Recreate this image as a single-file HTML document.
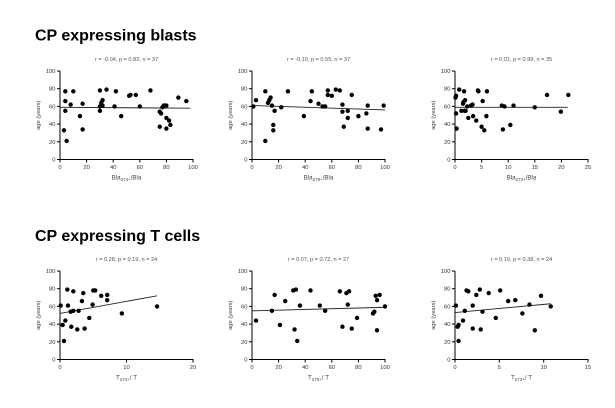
<!DOCTYPE html>
<html><head><meta charset="utf-8"><style>
html,body{margin:0;padding:0;background:#fff;width:615px;height:408px;overflow:hidden}
svg text{font-family:"Liberation Sans",sans-serif}
</style></head><body>
<svg id="s" width="615" height="408" xmlns="http://www.w3.org/2000/svg">
<text x="35" y="40.5" font-size="16" font-weight="bold" fill="#000">CP expressing blasts</text>
<text x="35" y="241" font-size="16" font-weight="bold" fill="#000">CP expressing T cells</text>
</svg>
<script>
var S=document.getElementById('s'),NS='http://www.w3.org/2000/svg';
function el(t,a,txt){var e=document.createElementNS(NS,t);for(var k in a)e.setAttribute(k,a[k]);if(txt!==undefined)e.innerHTML=txt;S.appendChild(e);return e;}
function panel(x0,y0,xmax,ticks,title,lab,sub,pts,line){
 var w=133,h=88.5,yb=y0+h;
 function X(v){return x0+v/xmax*w}function Y(v){return yb-v/100*h}
 el('text',{x:x0+w/2,y:y0-10,'font-size':'5.6','text-anchor':'middle',fill:'#555'},title);
 el('line',{x1:x0,y1:y0,x2:x0,y2:yb+0.5,stroke:'#000','stroke-width':1});
 el('line',{x1:x0-0.5,y1:yb,x2:x0+w+0.5,y2:yb,stroke:'#000','stroke-width':1});
 for(var i=0;i<=100;i+=20){el('line',{x1:x0-3,y1:Y(i),x2:x0,y2:Y(i),stroke:'#000','stroke-width':1});
  el('text',{x:x0-4.5,y:Y(i)+2,'font-size':'5.8','text-anchor':'end',fill:'#333'},i);}
 ticks.forEach(function(t){el('line',{x1:X(t),y1:yb,x2:X(t),y2:yb+3,stroke:'#000','stroke-width':1});
  el('text',{x:X(t),y:yb+9.5,'font-size':'5.8','text-anchor':'middle',fill:'#333'},t);});
 el('text',{x:x0-20,y:(y0+yb)/2,'font-size':'5.8','text-anchor':'middle',fill:'#444',transform:'rotate(-90 '+(x0-20)+' '+((y0+yb)/2)+')'},'age (years)');
 el('text',{x:x0+w/2,y:yb+20,'font-size':'6.2','text-anchor':'middle',fill:'#444'},lab+'<tspan font-size="4.5" dy="1.5">'+sub+'</tspan><tspan dy="-1.5">/'+(lab=='T'?' T':'Bla')+'</tspan>');
 el('line',{x1:X(line[0]),y1:Y(line[1]),x2:X(line[2]),y2:Y(line[3]),stroke:'#222','stroke-width':0.9});
 pts.forEach(function(p){el('circle',{cx:X(p[0]),cy:Y(p[1]),r:2.2,fill:'#000'});});
}
panel(60,71,100,[0,20,40,60,80,100],'r = -0.04, p = 0.82, n = 37','Bla','274+',
[[3,33],[4,55],[4,66],[4,77],[5,21],[8,62],[10,77],[15,49],[17,63],[17,34],[30,78],[30,60],[30,55],[31,64],[32,67],[32,61],[35,79],[41,60],[42,77],[46,49],[52,72],[53,73],[57,73],[60,60],[68,78],[75,37],[75,54],[76,52],[77,59],[78,61],[79,61],[80,61],[80,47],[80,35],[82,44],[83,39],[89,70],[95,66]],[0,59,98,58]);
panel(252,71,100,[0,20,40,60,80,100],'r = -0.10, p = 0.55, n = 37','Bla','279+',
[[1,60],[3,67],[10,77],[10,21],[12,64],[13,67],[14,70],[15,61],[16,39],[16,33],[17,55],[22,59],[27,77],[39,49],[44,66],[45,77],[50,63],[53,60],[55,60],[57,73],[57,78],[60,72],[63,79],[66,78],[68,62],[68,54],[69,37],[72,55],[72,47],[75,73],[80,49],[86,52],[87,61],[87,35],[97,34],[99,61]],[0,61,100,56]);
panel(455,71,25,[0,5,10,15,20,25],'r = 0.01, p = 0.99, n = 35','Bla','273+',
[[0.1,70],[0.2,72],[0.2,52],[0.3,35],[0.8,79],[1.2,55],[1.5,63],[1.6,65],[1.7,77],[1.8,55],[1.9,67],[2,55],[2.3,60],[2.5,47],[3,61],[3.3,62],[3.4,49],[4,44],[4.3,78],[4.4,77],[5,37],[5.2,66],[5.5,33],[5.9,49],[6,77],[8.8,61],[9,34],[9.3,60],[10.4,39],[11,61],[15,59],[17.3,73],[19.9,54],[21.3,73]],[0,59,21.2,59]);
panel(60,271,20,[0,10,20],'r = 0.28, p = 0.19, n = 24','T','274+',
[[0.1,61],[0.4,39],[0.6,21],[0.8,44],[1.1,79],[1.2,61],[1.6,54],[1.7,37],[2,77],[2,55],[2.6,34],[2.8,55],[3.3,66],[3.5,75],[3.7,35],[4.4,47],[4.9,62],[5,78],[5.3,78],[6.2,72],[7.1,73],[7.1,67],[9.3,52],[14.6,60]],[0,52,14.6,72]);
panel(252,271,100,[0,20,40,60,80,100],'r = 0.07, p = 0.72, n = 27','T','279+',
[[3,44],[15,55],[17,73],[21,39],[25,66],[31,78],[32,34],[33,79],[34,21],[36,61],[44,78],[51,61],[55,55],[66,77],[68,37],[71,75],[72,62],[73,77],[75,35],[79,47],[91,52],[92,54],[93,72],[94,33],[94,67],[96,73],[100,60]],[0,55,100,59]);
panel(455,271,15,[0,5,10,15],'r = 0.19, p = 0.38, n = 24','T','273+',
[[0.1,61],[0.3,37],[0.4,39],[0.4,21],[0.9,44],[1.1,55],[1.3,78],[1.5,77],[2,61],[2,35],[2.4,73],[2.8,79],[2.9,34],[3.1,54],[3.8,75],[4.6,47],[5.1,78],[6,66],[6.8,67],[7.6,52],[8.4,62],[9,33],[9.7,72],[10.8,60]],[0,53,10.8,63]);
</script>
</body></html>
